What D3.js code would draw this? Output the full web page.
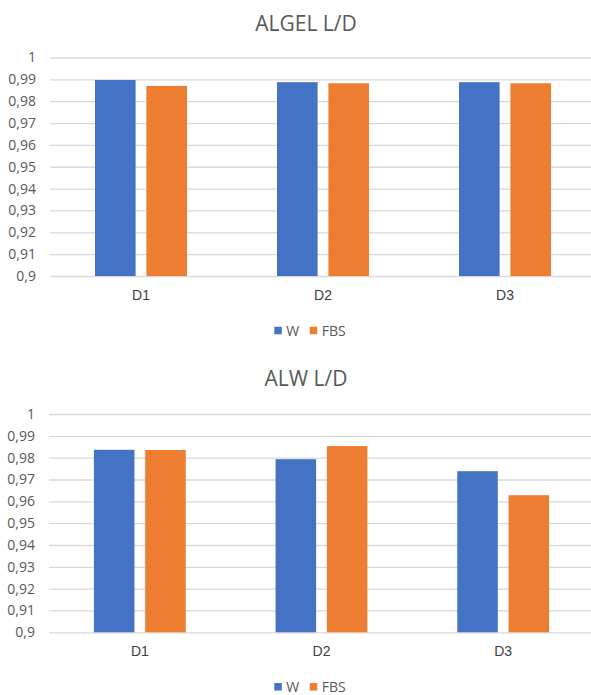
<!DOCTYPE html>
<html>
<head>
<meta charset="utf-8">
<script src="https://cdn.jsdelivr.net/npm/d3@7/dist/d3.min.js"></script>
<style>
  html, body { margin: 0; padding: 0; background: #fff; }
  svg { display: block; }
</style>
</head>
<body>
<svg id="chart" width="591" height="695"></svg>
<script>
// ---- data ----
const categories = ["D1", "D2", "D3"];
const seriesNames = ["W", "FBS"];
const seriesColors = ["#4472C4", "#ED7D31"];
const titles = ["ALGEL L/D", "ALW L/D"];
const algelW   = [0.9897, 0.9887, 0.9887];
const algelFBS = [0.9870, 0.9882, 0.9882];
const alwW     = [0.9836, 0.9793, 0.9738];
const alwFBS   = [0.9835, 0.9853, 0.9628];
const yTicks = [0.9, 0.91, 0.92, 0.93, 0.94, 0.95, 0.96, 0.97, 0.98, 0.99, 1];
const yDomain = [0.9, 1];

const panels = [
  { title: titles[0], values: [algelW, algelFBS], top: 57.5, bottom: 276, xl: 50, xr: 596, titleY: 30.7 },
  { title: titles[1], values: [alwW, alwFBS],     top: 414,  bottom: 632.3, xl: 49, xr: 594, titleY: 385.7 }
];

const svg = d3.select("#chart");
const fmt = d3.formatLocale({ decimal: ",", thousands: ".", grouping: [3], currency: ["", ""] }).format("~g");
const textColor = "#595959";

panels.forEach(p => {
  const g = svg.append("g");
  const y = d3.scaleLinear().domain(yDomain).range([p.bottom, p.top]);
  const x0 = d3.scaleBand().domain(categories).range([p.xl, p.xr])
    .paddingInner(0.4945).paddingOuter(0.24725);
  const x1 = d3.scaleBand().domain(seriesNames).range([0, x0.bandwidth()]).paddingInner(0.21);

  // title
  g.append("text")
    .attr("x", 306).attr("y", p.titleY)
    .attr("text-anchor", "middle")
    .attr("font-family", "'Open Sans', sans-serif")
    .attr("font-size", 21)
    .attr("fill", textColor)
    .text(p.title);

  // y axis with gridlines
  const yAxis = d3.axisLeft(y).tickValues(yTicks).tickFormat(fmt)
    .tickSize(-(591 - p.xl)).tickPadding(14);
  const ya = g.append("g").attr("transform", `translate(${p.xl},0)`).call(yAxis);
  ya.select(".domain").remove();
  ya.selectAll(".tick line").attr("stroke", "#d9d9d9").attr("stroke-width", 1.3);
  ya.selectAll(".tick text")
    .attr("font-family", "'Open Sans', sans-serif")
    .attr("font-size", 14)
    .attr("fill", textColor);

  // bars
  categories.forEach((c, ci) => {
    seriesNames.forEach((s, si) => {
      const v = p.values[si][ci];
      g.append("rect")
        .attr("x", x0(c) + x1(s))
        .attr("y", y(v))
        .attr("width", x1.bandwidth())
        .attr("height", y(yDomain[0]) - y(v))
        .attr("fill", seriesColors[si]);
    });
  });

  // x axis labels
  const xAxis = d3.axisBottom(x0).tickSize(0).tickPadding(14);
  const xa = g.append("g").attr("transform", `translate(0,${p.bottom})`).call(xAxis);
  xa.select(".domain").remove();
  xa.selectAll(".tick text")
    .attr("font-family", "'Liberation Sans', Arial, sans-serif")
    .attr("font-size", 14)
    .attr("fill", "#404040");

  // legend
  const lg = g.append("g");
  let cx = 0;
  seriesNames.forEach((s, si) => {
    lg.append("rect").attr("x", cx).attr("y", -3.75).attr("width", 7.5).attr("height", 7.5)
      .attr("fill", seriesColors[si]);
    const t = lg.append("text").attr("x", cx + 12).attr("y", 5)
      .attr("font-family", "'Open Sans', sans-serif")
      .attr("font-size", 14)
      .attr("fill", textColor)
      .text(s);
    cx += 12 + t.node().getComputedTextLength() + 10.5;
  });
  const lw = cx - 10.5;
  lg.attr("transform", `translate(${310 - lw / 2},${p.bottom + 54.5})`);
});
</script>
</body>
</html>
